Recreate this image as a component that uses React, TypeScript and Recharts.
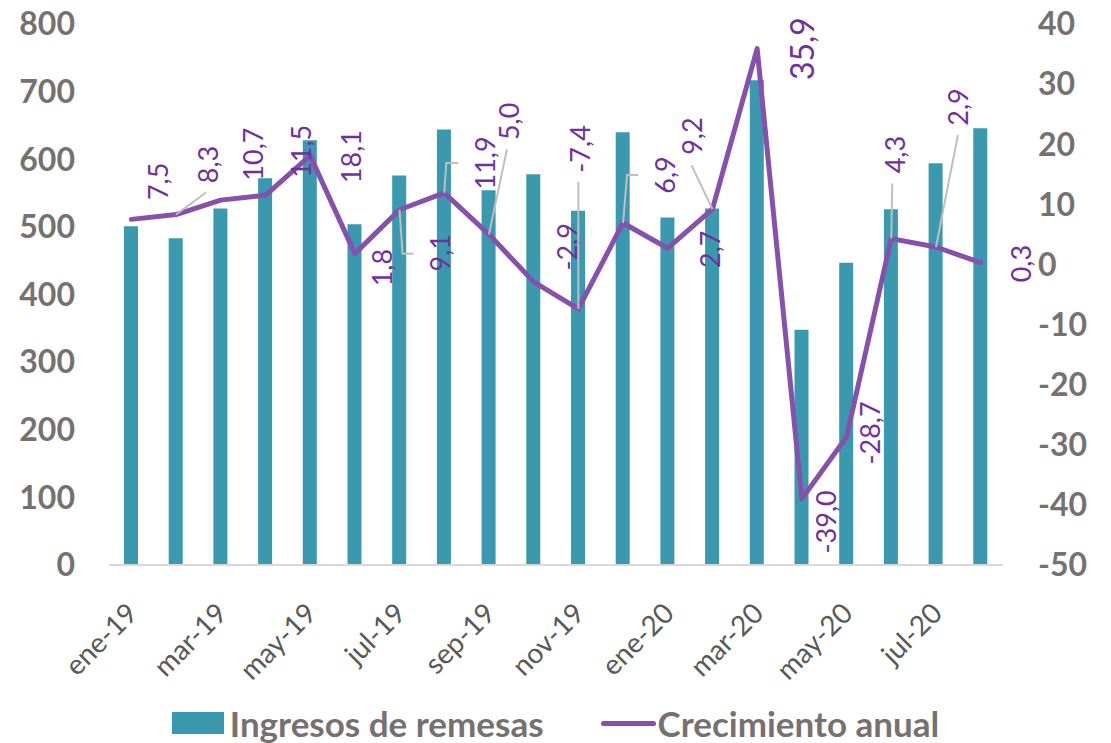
import {
  Bar,
  ComposedChart,
  LabelList,
  Legend,
  Line,
  XAxis,
  YAxis,
} from "recharts";

const months = [
  "ene-19", "feb-19", "mar-19", "abr-19", "may-19", "jun-19", "jul-19",
  "ago-19", "sep-19", "oct-19", "nov-19", "dic-19", "ene-20", "feb-20",
  "mar-20", "abr-20", "may-20", "jun-20", "jul-20", "ago-20",
];
const remesas = [
  501, 483, 527, 572, 628, 504, 576, 644, 554, 578, 524, 640, 514, 527, 717,
  348, 447, 526, 594, 646,
];
const crecimiento = [
  7.5, 8.3, 10.7, 11.5, 18.1, 1.8, 9.1, 11.9, 5.0, -2.9, -7.4, 6.9, 2.7, 9.2,
  35.9, -39.0, -28.7, 4.3, 2.9, 0.3,
];
const leftTicks = [0, 100, 200, 300, 400, 500, 600, 700, 800];
const rightTicks = [-50, -40, -30, -20, -10, 0, 10, 20, 30, 40];

const data = months.map((month, i) => ({
  month,
  remesas: remesas[i],
  crecimiento: crecimiento[i],
}));

const COLOR_BAR = "#3A99AE";
const COLOR_LINE = "#8650AC";
const COLOR_LABEL = "#7030A0";
const COLOR_AXIS_TEXT = "#767171";
const COLOR_AXIS_LINE = "#D9D9D9";
const COLOR_LEADER = "#BFBFBF";
const FONT = "Lato, 'Open Sans', sans-serif";

// manual label placement (offset from the point), like the hand-dragged excel labels
type Layout = { dx: number; dy: number; leader?: number[][]; big?: boolean };
const labelLayout: Layout[] = [
  { dx: 26, dy: -38 },
  { dx: 31, dy: -50, leader: [[0, 0], [30, -22]] },
  { dx: 32, dy: -46 },
  { dx: 35, dy: -44 },
  { dx: 40, dy: 1 },
  { dx: 27, dy: 14 },
  { dx: 40, dy: 43, leader: [[0, 0], [3, 44], [14, 44]] },
  { dx: 40, dy: -30, leader: [[0, 0], [2, -30], [14, -30]] },
  { dx: 20, dy: -113, leader: [[0, 0], [18, -85]] },
  { dx: 33, dy: -35 },
  { dx: 1, dy: -160, leader: [[0, 0], [0, -127]] },
  { dx: 41, dy: -48, leader: [[0, 0], [4, -48], [15, -48]] },
  { dx: 42, dy: 1 },
  { dx: -21, dy: -73, leader: [[0, 0], [-21, -44]] },
  { dx: 44, dy: 0, big: true },
  { dx: 24, dy: 23 },
  { dx: 23, dy: -4 },
  { dx: 3, dy: -84, leader: [[0, 0], [1, -55]] },
  { dx: 22, dy: -140, leader: [[0, 0], [22, -112]] },
  { dx: 40, dy: 1 },
];

const fmt = (v: number) => v.toFixed(1).replace(".", ",");

const renderGrowthLabel = (props: any) => {
  const { x, y, value, index } = props;
  const l = labelLayout[index] ?? { dx: 30, dy: 0 };
  return (
    <g key={`lbl-${index}`}>
      {l.leader && (
        <polyline
          points={l.leader.map(([a, b]) => `${x + a},${y + b}`).join(" ")}
          fill="none"
          stroke={COLOR_LEADER}
          strokeWidth={2}
        />
      )}
      <text
        transform={`translate(${x + l.dx},${y + l.dy}) rotate(-90)`}
        textAnchor="middle"
        dominantBaseline="central"
        fill={COLOR_LABEL}
        fontSize={l.big ? 32 : 27}
        fontFamily={FONT}
      >
        {fmt(Number(value))}
      </text>
    </g>
  );
};

const renderMonthTick = ({ x, y, payload }: any) => (
  <g transform={`translate(${x + 8},${y + 48}) rotate(-45)`}>
    <text
      textAnchor="end"
      fill="#595959"
      fontSize={28}
      fontFamily={FONT}
    >
      {payload.value}
    </text>
  </g>
);

const renderLegend = () => (
  <div
    style={{
      height: 48,
      display: "flex",
      alignItems: "center",
      justifyContent: "center",
      paddingTop: 8,
      boxSizing: "border-box",
      fontFamily: FONT,
      fontWeight: 700,
      fontSize: 35,
      color: COLOR_AXIS_TEXT,
    }}
  >
    <span style={{ width: 52, height: 22, background: COLOR_BAR, marginRight: 6 }} />
    <span>Ingresos de remesas</span>
    <span
      style={{
        width: 55,
        height: 5,
        borderRadius: 3,
        background: COLOR_LINE,
        marginLeft: 57,
        marginRight: 2,
      }}
    />
    <span>Crecimiento anual</span>
  </div>
);

const axisTick = {
  fill: COLOR_AXIS_TEXT,
  fontSize: 32,
  fontWeight: 700,
  fontFamily: FONT,
};

export default function App() {
  return (
    <div style={{ position: "absolute", left: 0, top: 0, background: "#fff" }}>
      <ComposedChart
        width={1111}
        height={743}
        data={data}
        margin={{ top: 24, right: 0, bottom: 0, left: 0 }}
        barSize={14}
      >
        <XAxis
          dataKey="month"
          interval={1}
          height={130}
          tickLine={false}
          tickSize={0}
          axisLine={{ stroke: COLOR_AXIS_LINE, strokeWidth: 2 }}
          tick={renderMonthTick}
        />
        <YAxis
          yAxisId="left"
          width={109}
          domain={[0, 800]}
          ticks={leftTicks}
          axisLine={false}
          tickLine={false}
          tickSize={0}
          tickMargin={34}
          tick={axisTick}
        />
        <YAxis
          yAxisId="right"
          orientation="right"
          width={108}
          domain={[-50, 40]}
          ticks={rightTicks}
          axisLine={false}
          tickLine={false}
          tickSize={0}
          tickMargin={35}
          tick={{ ...axisTick, textAnchor: "start" }}
        />
        <Legend verticalAlign="bottom" height={48} content={renderLegend} />
        <Bar
          yAxisId="left"
          dataKey="remesas"
          name="Ingresos de remesas"
          fill={COLOR_BAR}
          isAnimationActive={false}
        />
        <Line
          yAxisId="right"
          dataKey="crecimiento"
          name="Crecimiento anual"
          type="linear"
          stroke={COLOR_LINE}
          strokeWidth={5}
          strokeLinecap="round"
          strokeLinejoin="round"
          dot={false}
          isAnimationActive={false}
        >
          <LabelList dataKey="crecimiento" content={renderGrowthLabel} />
        </Line>
      </ComposedChart>
    </div>
  );
}
